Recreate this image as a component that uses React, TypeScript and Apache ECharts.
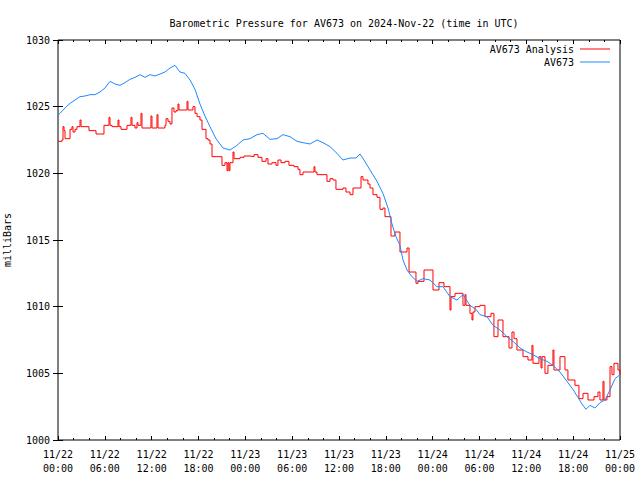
import React, { useEffect, useRef } from "react";
import * as echarts from "echarts";

// Hours since 2024-11-22 00:00 UTC
const blueHours = [0, 0.26, 0.9, 1.54, 2.18, 2.82, 3.46, 4.1, 4.74, 5.38, 6.02, 6.66, 7.3, 7.94, 8.58, 9.22, 9.86, 10.5, 11.15, 11.79, 12.43, 13.07, 13.7, 14.35, 14.99, 15.63, 16.27, 16.91, 17.55, 18.19, 18.83, 19.47, 20.24, 21.14, 22.03, 22.93, 23.7, 24.6, 25.49, 26.26, 27.16, 28.06, 28.82, 29.72, 30.62, 31.39, 32.28, 33.18, 33.95, 34.85, 35.74, 36.51, 37.41, 38.18, 38.69, 39.2, 39.97, 40.87, 41.63, 42.28, 42.79, 43.3, 43.81, 44.2, 44.71, 45.35, 45.99, 46.76, 47.66, 48.55, 49.32, 50.22, 51.11, 51.88, 52.78, 53.55, 54.06, 54.96, 55.73, 56.62, 57.52, 58.29, 59.19, 60.08, 60.85, 61.75, 62.64, 63.41, 64.31, 65.08, 65.97, 66.61, 67.13, 67.64, 68.15, 68.79, 69.43, 70.07, 70.72, 71.36, 72];
const blueValues = [1024.4, 1024.5, 1024.9, 1025.25, 1025.5, 1025.75, 1025.8, 1025.9, 1025.9, 1026.1, 1026.4, 1026.9, 1026.7, 1026.6, 1026.8, 1027.05, 1027.2, 1027.4, 1027.2, 1027.4, 1027.3, 1027.45, 1027.6, 1027.9, 1028.1, 1027.6, 1027.5, 1027.0, 1026.3, 1025.2, 1024.3, 1023.5, 1022.6, 1021.9, 1021.75, 1022.1, 1022.5, 1022.6, 1022.9, 1023.0, 1022.55, 1022.6, 1022.9, 1022.75, 1022.4, 1022.3, 1022.2, 1022.5, 1022.3, 1022.0, 1021.5, 1021.0, 1021.15, 1021.15, 1021.45, 1021.0, 1020.25, 1019.4, 1018.5, 1017.4, 1016.2, 1015.25, 1014.6, 1013.5, 1012.75, 1012.25, 1011.9, 1012.1, 1012.0, 1011.5, 1011.5, 1010.75, 1010.5, 1010.9, 1010.1, 1009.8, 1009.4, 1009.25, 1008.6, 1008.25, 1007.75, 1007.4, 1006.9, 1006.6, 1006.4, 1006.1, 1005.9, 1005.6, 1005.1, 1004.5, 1003.8, 1003.2, 1002.7, 1002.3, 1002.6, 1002.4, 1002.8, 1003.0, 1003.75, 1004.6, 1004.9];

const redHours = [0, 0.51, 0.64, 0.77, 0.9, 1.54, 1.79, 1.92, 2.18, 2.43, 2.82, 2.95, 3.97, 4.87, 5.89, 6.53, 6.66, 6.92, 7.69, 7.81, 8.07, 8.84, 9.35, 9.48, 9.86, 10.12, 10.25, 10.63, 10.76, 11.91, 12.04, 12.68, 12.81, 13.7, 13.84, 14.09, 14.35, 14.6, 14.86, 15.12, 15.37, 15.5, 16.53, 16.65, 17.29, 17.55, 17.81, 18.19, 18.45, 18.96, 19.22, 19.47, 19.73, 21.01, 21.39, 21.65, 21.78, 21.91, 22.03, 22.42, 22.55, 23.32, 23.83, 24.6, 25.11, 25.62, 26.13, 26.65, 26.9, 27.41, 27.93, 28.18, 28.57, 29.08, 29.59, 30.23, 30.75, 31.0, 31.39, 32.8, 32.92, 33.18, 34.46, 34.85, 35.23, 35.61, 36.51, 36.89, 37.41, 37.79, 38.82, 39.07, 39.71, 39.97, 40.35, 40.87, 41.25, 41.63, 41.89, 42.66, 43.17, 43.81, 44.71, 44.97, 45.86, 46.12, 46.89, 48.04, 48.81, 49.45, 50.22, 50.35, 50.86, 51.88, 52.14, 52.27, 52.78, 53.04, 53.16, 53.42, 54.06, 54.7, 55.47, 55.85, 56.37, 57.01, 57.78, 58.16, 58.42, 58.8, 59.57, 60.21, 60.72, 60.85, 61.62, 61.88, 62.01, 62.39, 62.77, 63.41, 63.54, 64.31, 64.95, 65.33, 66.23, 66.74, 67.26, 67.9, 68.67, 69.18, 69.43, 69.82, 69.95, 70.33, 70.72, 70.97, 71.23, 71.74, 72];
const redValues = [1022.4, 1022.5, 1023.5, 1023.2, 1022.6, 1023.3, 1023.5, 1023.1, 1023.3, 1023.5, 1024.0, 1023.5, 1023.2, 1022.95, 1023.6, 1024.2, 1023.6, 1023.5, 1024.0, 1023.5, 1023.3, 1023.6, 1024.2, 1023.6, 1023.4, 1023.8, 1023.6, 1024.5, 1023.4, 1024.3, 1023.4, 1024.4, 1023.4, 1023.6, 1024.1, 1023.9, 1023.7, 1024.9, 1024.6, 1024.7, 1025.2, 1024.75, 1025.4, 1024.75, 1025.0, 1024.5, 1024.25, 1024.0, 1023.3, 1022.6, 1022.5, 1022.2, 1021.25, 1020.6, 1020.8, 1020.2, 1020.8, 1020.2, 1020.8, 1021.6, 1021.1, 1021.2, 1021.3, 1021.25, 1021.4, 1021.2, 1020.9, 1021.1, 1020.7, 1020.8, 1020.6, 1021.0, 1020.8, 1020.9, 1020.6, 1020.5, 1020.3, 1019.9, 1020.1, 1020.5, 1020.1, 1019.9, 1019.4, 1019.6, 1019.5, 1018.8, 1018.9, 1018.6, 1018.4, 1018.9, 1019.75, 1019.5, 1019.2, 1018.9, 1018.4, 1018.2, 1017.3, 1017.4, 1016.75, 1015.3, 1015.6, 1014.1, 1014.4, 1012.6, 1011.75, 1011.9, 1012.75, 1011.25, 1011.8, 1011.5, 1009.75, 1010.75, 1011.0, 1010.1, 1010.9, 1010.1, 1009.5, 1009.0, 1009.6, 1010.0, 1010.1, 1009.25, 1009.5, 1007.75, 1009.0, 1007.75, 1006.9, 1008.1, 1007.6, 1006.75, 1006.25, 1006.0, 1007.1, 1005.75, 1006.25, 1005.4, 1006.25, 1005.0, 1005.6, 1006.75, 1005.25, 1006.25, 1005.25, 1004.5, 1004.1, 1003.1, 1003.5, 1003.0, 1003.25, 1003.6, 1003.0, 1004.4, 1003.0, 1003.25, 1005.5, 1004.9, 1005.75, 1005.25, 1004.9];

const seriesNames = ["AV673 Analysis", "AV673"];
const seriesColors = ["#ff0000", "#1e88ff"];
const titleText = "Barometric Pressure for AV673 on 2024-Nov-22 (time in UTC)";
const yAxisName = "milliBars";

const FONT = "DejaVu Sans Mono";

function xLabel(h: number): string {
  const day = 22 + Math.floor(h / 24);
  const hr = Math.round(h % 24);
  return `11/${day}\n${String(hr).padStart(2, "0")}:00`;
}

export default function App() {
  const ref = useRef<HTMLDivElement>(null);
  useEffect(() => {
    if (!ref.current) return;
    const chart = echarts.init(ref.current, undefined, { renderer: "svg" });
    const xCommon = {
      type: "value" as const,
      min: 0,
      max: 72,
      interval: 6,
      splitLine: { show: false },
      axisLine: { show: false },
      axisTick: { show: true, inside: true, length: 4, lineStyle: { color: "#000" } },
      minorTick: { show: true, splitNumber: 3, length: 2, lineStyle: { color: "#000" } },
    };
    const yCommon = {
      type: "value" as const,
      min: 1000,
      max: 1030,
      interval: 5,
      splitLine: { show: false },
      axisLine: { show: false },
      axisTick: { show: true, inside: true, length: 5, lineStyle: { color: "#000" } },
    };
    chart.setOption({
      animation: false,
      backgroundColor: "#fff",
      title: {
        text: titleText,
        left: 339,
        textAlign: "center",
        top: 13,
        textStyle: { fontFamily: FONT, fontSize: 10, fontWeight: "normal", color: "#000" },
      },
      legend: [
        {
          data: [seriesNames[0]],
          right: 30,
          top: 44,
          icon: "rect",
          itemWidth: 30,
          itemHeight: 1,
          itemGap: 0,
          padding: 0,
          textStyle: { fontFamily: FONT, fontSize: 10, color: "#000", padding: [0, 1, 0, 0] },
          align: "right",
        },
        {
          data: [seriesNames[1]],
          right: 30,
          top: 57,
          icon: "rect",
          itemWidth: 30,
          itemHeight: 1,
          itemGap: 0,
          padding: 0,
          textStyle: { fontFamily: FONT, fontSize: 10, color: "#000", padding: [0, 1, 0, 0] },
          align: "right",
        },
      ],
      grid: {
        left: 58,
        right: 20,
        top: 40,
        bottom: 40,
        containLabel: false,
        outerBoundsMode: "none",
        show: true,
        borderColor: "#000",
        borderWidth: 1,
        backgroundColor: "transparent",
      },
      xAxis: [
        {
          ...xCommon,
          position: "bottom",
          axisLabel: {
            show: true,
            formatter: (v: number) => xLabel(v),
            fontFamily: FONT,
            fontSize: 10,
            color: "#000",
            lineHeight: 14,
            margin: 7,
            showMinLabel: true,
            showMaxLabel: true,
          },
        },
        { ...xCommon, position: "top", axisLabel: { show: false } },
      ],
      yAxis: [
        {
          ...yCommon,
          position: "left",
          name: yAxisName,
          nameLocation: "middle",
          nameGap: 46,
          nameRotate: 90,
          nameTextStyle: { fontFamily: FONT, fontSize: 10, color: "#000" },
          axisLabel: {
            formatter: (v: number) => String(v),
            fontFamily: FONT,
            fontSize: 10,
            color: "#000",
            margin: 8,
          },
        },
        { ...yCommon, position: "right", axisLabel: { show: false } },
      ],
      series: [
        {
          name: seriesNames[0],
          type: "line",
          step: "end",
          showSymbol: false,
          symbol: "none",
          color: seriesColors[0],
          lineStyle: { width: 1, color: seriesColors[0] },
          data: redHours.map((h, i) => [h, redValues[i]]),
          xAxisIndex: 0,
          yAxisIndex: 0,
        },
        {
          name: seriesNames[1],
          type: "line",
          showSymbol: false,
          symbol: "none",
          color: seriesColors[1],
          lineStyle: { width: 1, color: seriesColors[1] },
          data: blueHours.map((h, i) => [h, blueValues[i]]),
          xAxisIndex: 0,
          yAxisIndex: 0,
        },
      ],
    });
    return () => chart.dispose();
  }, []);
  return (
    <div
      ref={ref}
      style={{ position: "fixed", left: 0, top: 0, width: 640, height: 480, background: "#fff" }}
    />
  );
}
